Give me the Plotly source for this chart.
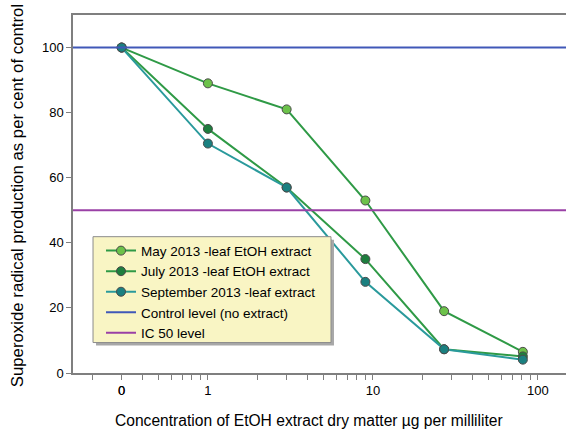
import plotly.graph_objects as go

# ---- data ----
concentration = [0, 1, 3, 9, 27, 81]   # µg per ml
may_2013 = [100, 89, 81, 53, 19, 6.5]
july_2013 = [100, 75, 57, 35, 7.3, 5.1]
sept_2013 = [100, 70.5, 57, 28, 7.3, 4.1]
control_level = 100
ic50_level = 50

series_names = ["May 2013 -leaf EtOH extract", "July 2013 -leaf EtOH extract",
                "September 2013 -leaf extract"]
x_tick_labels = ["0", "1", "10", "100"]
x_title = "Concentration of EtOH extract dry matter µg per milliliter"
y_title = "Superoxide radical production as per cent of control"

# scale: zero concentration is drawn at this position on the log axis
ZERO_POS = 0.3
xplot = [ZERO_POS if c == 0 else c for c in concentration]

major_vals = [ZERO_POS, 1, 10, 100]
minor_vals = [m * d for d in (0.1, 1, 10) for m in range(2, 10)] + [100]
tickvals = sorted(set(minor_vals + major_vals))
ticktext = []
for v in tickvals:
    if v in major_vals:
        ticktext.append(x_tick_labels[major_vals.index(v)])
    else:
        ticktext.append("")

FONT = "Liberation Sans, Arial, sans-serif"
styles = [
    dict(line="#2f9a46", marker="#6cc24a"),
    dict(line="#2f9a46", marker="#1e7e3e"),
    dict(line="#2a9a9c", marker="#1a8080"),
]

fig = go.Figure()
for name, vals, st in zip(series_names, [may_2013, july_2013, sept_2013], styles):
    fig.add_trace(go.Scatter(
        x=xplot, y=vals, mode="lines+markers", name=name,
        line=dict(color=st["line"], width=2),
        marker=dict(size=9, color=st["marker"], line=dict(color="#4a4a4a", width=1)),
    ))

xr = [-0.8176, 2.170]
fig.add_trace(go.Scatter(x=[10 ** xr[0], 10 ** xr[1]], y=[control_level] * 2, mode="lines",
                         name="Control level (no extract)",
                         line=dict(color="#4058b8", width=2)))
fig.add_trace(go.Scatter(x=[10 ** xr[0], 10 ** xr[1]], y=[ic50_level] * 2, mode="lines",
                         name="IC 50 level",
                         line=dict(color="#9a40a6", width=2)))

PW, PH = 493, 358.5  # plot area size in px

# legend box (drawn as shapes so its size matches the original) + drop shadow
box = dict(x0=0.0406, x1=0.5233, y0=0.0851, y1=0.3808)
dx, dy = 3 / PW, 3 / PH
fig.add_shape(type="rect", xref="paper", yref="paper", layer="above",
              x0=box["x0"] + dx, x1=box["x1"] + dx, y0=box["y0"] - dy, y1=box["y1"] - dy,
              fillcolor="#a8a8a8", line=dict(width=0))
fig.add_shape(type="rect", xref="paper", yref="paper", layer="above",
              x0=box["x0"], x1=box["x1"], y0=box["y0"], y1=box["y1"],
              fillcolor="#f9f5c4", line=dict(color="#8c8c8c", width=1))

# axis titles
fig.add_annotation(text=x_title, xref="paper", yref="paper",
                   x=(308.5 - 73) / PW, y=-(421 - 373.5) / PH,
                   xanchor="center", yanchor="middle", showarrow=False,
                   font=dict(family=FONT, size=15.6, color="black"))
fig.add_annotation(text=y_title, xref="paper", yref="paper", textangle=-90,
                   x=-(73 - 17.5) / PW, y=(373.5 - 196) / PH,
                   xanchor="center", yanchor="middle", showarrow=False,
                   font=dict(family=FONT, size=16.8, color="black"))

fig.update_layout(
    width=566, height=432,
    margin=dict(l=73, r=0, t=15, b=58.5),
    paper_bgcolor="white", plot_bgcolor="white",
    font=dict(family=FONT, size=13, color="black"),
    showlegend=True,
    legend=dict(
        x=0.0568, y=0.3845, xanchor="left", yanchor="top",
        bgcolor="rgba(0,0,0,0)", borderwidth=0,
        font=dict(family=FONT, size=13.5, color="black"),
        tracegroupgap=0, itemwidth=30,
    ),
)
fig.update_xaxes(
    type="log", range=xr, automargin=False,
    tickvals=tickvals, ticktext=ticktext, tickangle=0,
    ticks="outside", ticklen=5, tickcolor="#7f7f7f", tickwidth=1,
    showline=True, linecolor="#7f7f7f", linewidth=1.5, mirror=True,
    showgrid=False, zeroline=False,
    tickfont=dict(size=13),
)
fig.update_yaxes(
    range=[0, 110], tickvals=[0, 20, 40, 60, 80, 100], automargin=False,
    ticks="outside", ticklen=5, tickcolor="#7f7f7f", tickwidth=1,
    showline=True, linecolor="#7f7f7f", linewidth=1.5,
    showgrid=False, zeroline=False,
    tickfont=dict(size=13),
)

fig.write_html("out.html", config={"displayModeBar": False},
               post_script="document.body.style.margin='0';")
